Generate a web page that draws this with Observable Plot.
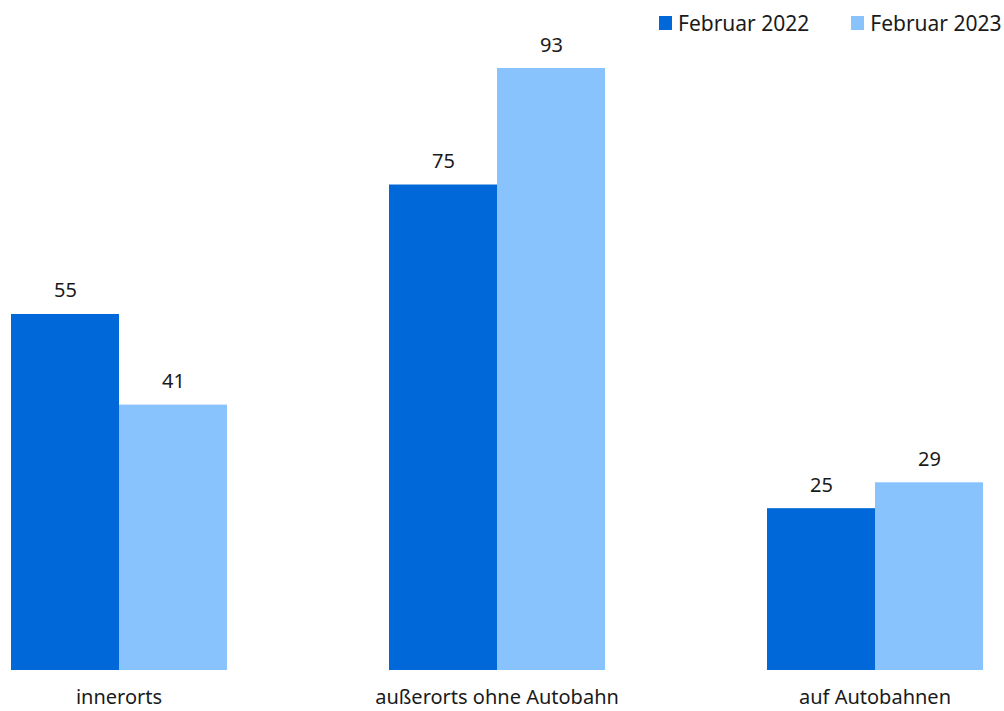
<!DOCTYPE html>
<html>
<head>
<meta charset="utf-8">
<script src="https://cdn.jsdelivr.net/npm/d3@7"></script>
<script src="https://cdn.jsdelivr.net/npm/@observablehq/plot@0.6"></script>
<style>
  html, body { margin: 0; padding: 0; background: #fff; }
  #wrap { position: relative; width: 1004px; height: 711px; font-family: "Noto Sans", sans-serif; }
  #legend { position: absolute; top: 9px; left: 659px; display: flex; align-items: center; font-size: 21px; color: #1a1a1a; white-space: nowrap; }
  #legend .item { display: flex; align-items: center; margin-right: 42px; }
  #legend .sw { width: 13px; height: 14px; margin-right: 6px; }
</style>
</head>
<body>
<div id="wrap"><div id="legend"></div><div id="chart"></div></div>
<script>
const categories = ["innerorts", "außerorts ohne Autobahn", "auf Autobahnen"];
const series = ["Februar 2022", "Februar 2023"];
const values2022 = [55, 75, 25];
const values2023 = [41, 93, 29];
const colors = ["#0068d8", "#89c3fd"];

const data = [];
categories.forEach((c, i) => {
  data.push({category: c, series: series[0], value: values2022[i]});
  data.push({category: c, series: series[1], value: values2023[i]});
});

const legend = document.getElementById("legend");
series.forEach((s, i) => {
  const it = document.createElement("div");
  it.className = "item";
  it.innerHTML = `<span class="sw" style="background:${colors[i]}"></span><span>${s}</span>`;
  legend.appendChild(it);
});

const chart = Plot.plot({
  width: 1004,
  height: 711,
  marginLeft: 9,
  marginRight: 21,
  marginTop: 68,
  marginBottom: 41,
  style: {fontFamily: "Noto Sans, sans-serif", fontSize: "20px", color: "#1a1a1a", background: "#fff"},
  fx: {domain: categories, paddingInner: 0.427, paddingOuter: 0, axis: "bottom", label: null, tickSize: 0, tickPadding: 19},
  x: {domain: series, padding: 0, axis: null},
  y: {domain: [0, 93], axis: null},
  color: {domain: series, range: colors},
  marks: [
    Plot.barY(data, {fx: "category", x: "series", y: "value", fill: "series", inset: 0}),
    Plot.text(data, {fx: "category", x: "series", y: "value", text: d => String(d.value), lineAnchor: "bottom", dy: -17, fontSize: 20, fill: "#1a1a1a"})
  ]
});
document.getElementById("chart").appendChild(chart);
</script>
</body>
</html>
